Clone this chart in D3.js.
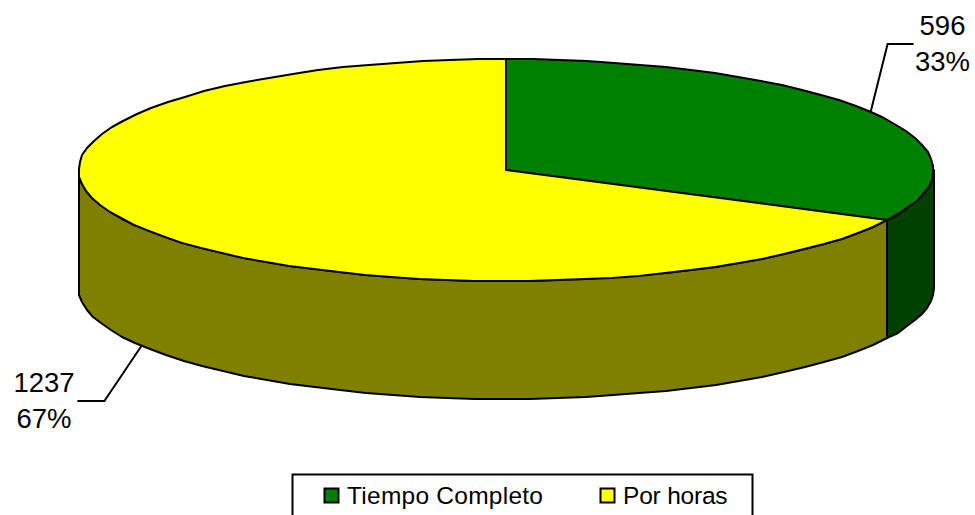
<!DOCTYPE html>
<html>
<head>
<meta charset="utf-8">
<script src="https://cdn.jsdelivr.net/npm/d3@7"></script>
<style>
  html, body { margin: 0; padding: 0; background: #fff; overflow: hidden; }
  text { font-family: "Liberation Sans", Arial, sans-serif; fill: #000; }
</style>
</head>
<body>
<div id="chart"></div>
<script>
// values
var categories = ["Tiempo Completo", "Por horas"];
var values = [596, 1237];
var percents = ["33%", "67%"];

var topColors = ["#008000", "#ffff00"];
var sideColors = ["#004000", "#808000"];

var width = 975,
    height = 515,
    cx = 506,
    cy = 170,
    rx = 427.5,
    ry = 111,
    depth = 118,
    fontSize = 27.5;

var svg = d3.select("#chart")
    .append("svg")
    .attr("width", width)
    .attr("height", height)
    .style("display", "block");

// pie angles start at 12 o'clock and go clockwise
var slices = d3.pie().sort(null)(values);

var xScale = d3.scaleLinear().domain([-1, 1]).range([cx - rx, cx + rx]);
var yScale = d3.scaleLinear().domain([-1, 1]).range([cy - ry, cy + ry]);

function rimX(a) { return xScale(Math.sin(a)); }
function rimY(a) { return yScale(-Math.cos(a)); }

// points along the rim, rounded so the edge has the same rough look
function rim(a0, a1, drop) {
  var n = Math.max(2, Math.ceil((a1 - a0) / (Math.PI / 48)));
  return d3.range(n + 1).map(function(i) {
    var a = a0 + (a1 - a0) * i / n;
    return [Math.round(rimX(a)), Math.round(rimY(a)) + drop];
  });
}

var line = d3.line();

// side walls, only the part of the rim that faces the viewer
var front = [Math.PI / 2, Math.PI * 3 / 2];
slices.forEach(function(s, i) {
  var a0 = Math.max(s.startAngle, front[0]),
      a1 = Math.min(s.endAngle, front[1]);
  if (a1 <= a0) return;
  var pts = rim(a0, a1, 0).concat(rim(a0, a1, depth).reverse());
  svg.append("path")
      .attr("d", line(pts) + "Z")
      .attr("fill", sideColors[i])
      .attr("stroke", "#000")
      .attr("stroke-width", 2)
      .attr("stroke-linejoin", "round");
});

// top of the pie
slices.forEach(function(s, i) {
  var pts = [[cx, cy]].concat(rim(s.startAngle, s.endAngle, 0));
  svg.append("path")
      .attr("d", line(pts) + "Z")
      .attr("fill", topColors[i])
      .attr("stroke", "#000")
      .attr("stroke-width", 2)
      .attr("stroke-linejoin", "round");
});

// leader lines start from the middle of each slice
var leaders = [
  {drop: 0, elbow: [17, -68], end: 43, tx: 942.5, ty: 35},
  {drop: depth, elbow: [-37, 55], end: -64, tx: 44, ty: 392}
];

slices.forEach(function(s, i) {
  var mid = (s.startAngle + s.endAngle) / 2,
      l = leaders[i],
      x0 = rimX(mid),
      y0 = rimY(mid) + l.drop,
      x1 = x0 + l.elbow[0],
      y1 = y0 + l.elbow[1];

  svg.append("path")
      .attr("d", line([[x0, y0], [x1, y1], [x0 + l.end, y1]]))
      .attr("fill", "none")
      .attr("stroke", "#000")
      .attr("stroke-width", 2);

  var label = svg.append("text")
      .attr("text-anchor", "middle")
      .attr("font-size", fontSize);
  label.append("tspan").attr("x", l.tx).attr("y", l.ty).text(values[i]);
  label.append("tspan").attr("x", l.tx).attr("y", l.ty + 35.5).text(percents[i]);
});

// legend box runs off the bottom of the picture
svg.append("rect")
    .attr("x", 292.5)
    .attr("y", 474.5)
    .attr("width", 460)
    .attr("height", 60)
    .attr("fill", "#fff")
    .attr("stroke", "#000")
    .attr("stroke-width", 2);

var legendX = [324, 600];
var legendSpacing = [0.25, -0.2];
categories.forEach(function(c, i) {
  svg.append("rect")
      .attr("x", legendX[i] + 0.5)
      .attr("y", 488.5)
      .attr("width", 14)
      .attr("height", 14)
      .attr("fill", topColors[i])
      .attr("stroke", "#000")
      .attr("stroke-width", 2);
  svg.append("text")
      .attr("x", legendX[i] + 23)
      .attr("y", 504)
      .attr("font-size", 24.5)
      .attr("letter-spacing", legendSpacing[i])
      .text(c);
});
</script>
</body>
</html>
